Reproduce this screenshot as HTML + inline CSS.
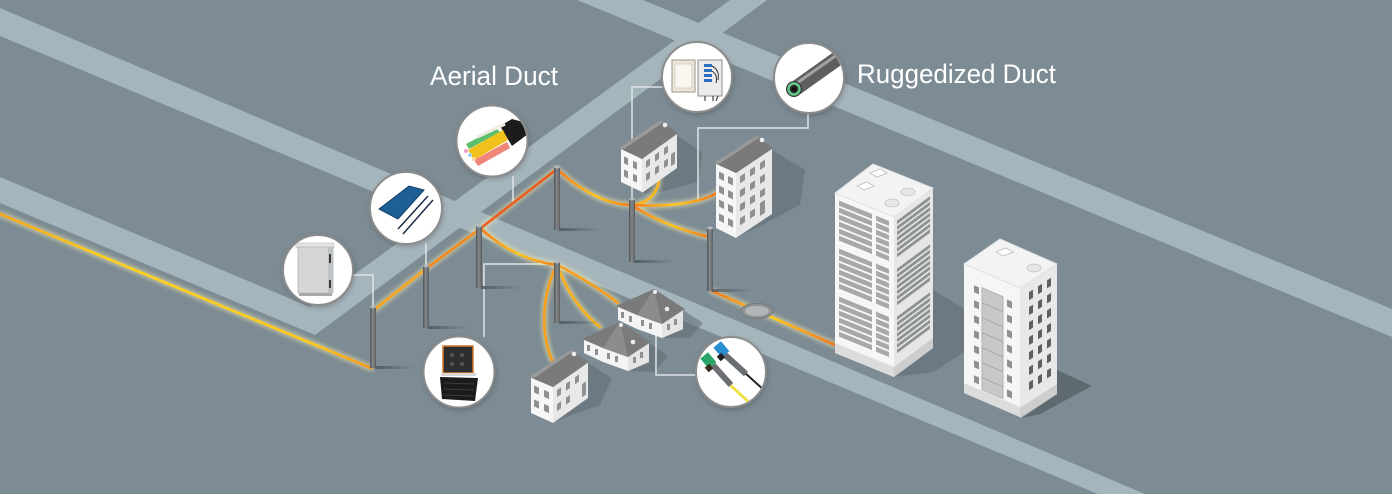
<!DOCTYPE html>
<html><head><meta charset="utf-8"><style>
html,body{margin:0;padding:0;background:#7c8b94;}
svg{display:block;}
</style></head><body>
<svg width="1392" height="494" viewBox="0 0 1392 494" xmlns="http://www.w3.org/2000/svg">
<defs>
 <filter id="glow" x="-20%" y="-50%" width="140%" height="200%"><feGaussianBlur stdDeviation="2.2"/></filter>
 <filter id="soft" x="-20%" y="-20%" width="140%" height="140%"><feGaussianBlur stdDeviation="3"/></filter>
 <linearGradient id="poleG" x1="0" y1="0" x2="1" y2="0"><stop offset="0" stop-color="#4f5356"/><stop offset=".45" stop-color="#85898c"/><stop offset="1" stop-color="#5a5e61"/></linearGradient>
 <linearGradient id="shG" x1="0" y1="0" x2="1" y2="0"><stop offset="0" stop-color="#4e5960" stop-opacity=".9"/><stop offset="1" stop-color="#4e5960" stop-opacity="0"/></linearGradient>
 <linearGradient id="og" x1="0" y1="0" x2="1" y2="0"><stop offset="0" stop-color="#f47a1a"/><stop offset=".5" stop-color="#ffc81e"/><stop offset="1" stop-color="#f3761b"/></linearGradient>
 <linearGradient id="yg" x1="0" y1="0" x2="1" y2="0"><stop offset="0" stop-color="#f7a41b"/><stop offset=".3" stop-color="#ffd21d"/><stop offset=".85" stop-color="#ffc81c"/><stop offset="1" stop-color="#f5961b"/></linearGradient>
 <clipPath id="c1"><circle cx="318" cy="270" r="34"/></clipPath>
 <clipPath id="c2"><circle cx="406" cy="208" r="35"/></clipPath>
 <clipPath id="c3"><circle cx="492" cy="141" r="34.5"/></clipPath>
 <clipPath id="c4"><circle cx="697" cy="77" r="34"/></clipPath>
 <clipPath id="c5"><circle cx="809" cy="78" r="34"/></clipPath>
 <clipPath id="c6"><circle cx="459" cy="372" r="34.5"/></clipPath>
 <clipPath id="c7"><circle cx="731" cy="372" r="34"/></clipPath>
</defs>

<!-- ground -->
<rect width="1392" height="494" fill="#7c8b94"/>

<!-- roads -->
<g fill="#a5b5bc">
 <polygon points="577,0 643,0 1392,309 1392,337"/>
 <polygon points="0,8 1145,494 1098,494 0,36"/>
 <polygon points="0,177 310,307 315,335 0,203"/>
 <polygon points="730,0 767,0 315,335 310,307"/>
</g>

<!-- building shadows -->
<g fill="#5f6b72" opacity=".55">
 <polygon points="677,136 702,152 698,182 652,194 642,193"/>
 <polygon points="772,150 805,170 800,205 760,226 736,238"/>
 <polygon points="588,363 612,378 600,405 553,422"/>
 <polygon points="649,343 668,356 655,372 628,371"/>
 <polygon points="683,310 703,323 690,338 662,338"/>
 <polygon points="933,290 980,318 975,345 933,372 894,377"/>
</g>
<polygon points="1057,370 1092,386 1040,414 1022,418 1057,394" fill="#5f6a70"/>

<!-- leader lines -->
<g fill="none" stroke="#dfe5e8" stroke-width="1.5">
 <path d="M352,275 H373 V307"/>
 <path d="M426,243 V266"/>
 <path d="M513,176 V205"/>
 <path d="M663,87 H632 V200"/>
 <path d="M808,113 V128 H698 V200"/>
 <path d="M484,337 V264 H557"/>
 <path d="M656,333 V375 H697"/>
</g>

<!-- cable glow -->
<g fill="none" stroke="#fff1a8" stroke-width="6" opacity=".55" filter="url(#glow)" stroke-linecap="round">
 <path d="M0,214 L371,368"/>
 <path d="M375,309 L427,268 L481,228 L557,169"/>
 <path d="M481,229 Q516,260 557,265"/>
 <path d="M558,170 Q597,205 633,205"/>
 <path d="M633,205 Q655,202 659,181"/>
 <path d="M633,205 Q690,208 717,193"/>
 <path d="M633,206 Q664,226 709,237"/>
 <path d="M557,265 C541,295 541,335 552,360"/>
 <path d="M557,265 Q572,305 600,327"/>
 <path d="M557,265 Q588,280 618,303"/>
 <path d="M712,291 L835,345"/>
</g>

<!-- cables -->
<g fill="none" stroke-width="2.6" stroke-linecap="round">
 <path d="M0,214 L371,368" stroke="url(#yg)"/>
 <path d="M375,309 L427,268" stroke="#f9a41d"/>
 <path d="M427,268 L481,228" stroke="#f58a1c"/>
 <path d="M481,228 L557,169" stroke="#ee5c1e"/>
 <path d="M481,229 Q516,260 557,265" stroke="url(#og)"/>
 <path d="M558,170 Q597,205 633,205" stroke="url(#og)"/>
 <path d="M633,205 Q655,202 659,181" stroke="#f9b51e"/>
 <path d="M633,205 Q690,208 717,193" stroke="url(#og)"/>
 <path d="M633,206 Q664,226 709,237" stroke="url(#og)"/>
 <path d="M557,265 C541,295 541,335 552,360" stroke="#f7a01c"/>
 <path d="M557,265 Q572,305 600,327" stroke="#f9b01d"/>
 <path d="M557,265 Q588,280 618,303" stroke="#f8a01c"/>
 <path d="M712,291 L835,345" stroke="url(#og)"/>
</g>

<!-- manhole -->
<ellipse cx="757" cy="311" rx="16" ry="7.5" fill="#8f9396" stroke="#737779" stroke-width="1"/>
<ellipse cx="757" cy="311" rx="12" ry="5" fill="#b3b6b8"/>

<!-- poles -->
<g>
 <g><rect x="375" y="366" width="40" height="3" fill="url(#shG)"/><rect x="370" y="307" width="6" height="61" fill="url(#poleG)"/><ellipse cx="373" cy="307" rx="3" ry="1.5" fill="#b4b7b9"/></g>
 <g><rect x="428" y="326" width="40" height="3" fill="url(#shG)"/><rect x="423" y="266" width="6" height="62" fill="url(#poleG)"/><ellipse cx="426" cy="266" rx="3" ry="1.5" fill="#b4b7b9"/></g>
 <g><rect x="481" y="286" width="40" height="3" fill="url(#shG)"/><rect x="476" y="226" width="6" height="62" fill="url(#poleG)"/><ellipse cx="479" cy="226" rx="3" ry="1.5" fill="#b4b7b9"/></g>
 <g><rect x="559" y="228" width="40" height="3" fill="url(#shG)"/><rect x="554" y="167" width="6" height="63" fill="url(#poleG)"/><ellipse cx="557" cy="167" rx="3" ry="1.5" fill="#b4b7b9"/></g>
 <g><rect x="559" y="321" width="40" height="3" fill="url(#shG)"/><rect x="554" y="262" width="6" height="61" fill="url(#poleG)"/><ellipse cx="557" cy="262" rx="3" ry="1.5" fill="#b4b7b9"/></g>
 <g><rect x="634" y="260" width="40" height="3" fill="url(#shG)"/><rect x="629" y="199" width="6" height="63" fill="url(#poleG)"/><ellipse cx="632" cy="199" rx="3" ry="1.5" fill="#b4b7b9"/></g>
 <g><rect x="712" y="289" width="40" height="3" fill="url(#shG)"/><rect x="707" y="228" width="6" height="63" fill="url(#poleG)"/><ellipse cx="710" cy="228" rx="3" ry="1.5" fill="#b4b7b9"/></g>
</g>

<!-- House H1 -->
<g>
 <g transform="matrix(1,0.476,0,1,621,149)">
  <rect x="0" y="0" width="21" height="33" fill="#f6f6f6"/>
  <g fill="#8e9193"><rect x="3" y="6" width="4" height="7"/><rect x="12" y="6" width="4" height="7"/><rect x="3" y="19" width="4" height="7"/><rect x="12" y="19" width="4" height="7"/></g>
 </g>
 <g transform="matrix(1,-0.714,0,1,642,159)">
  <rect x="0" y="0" width="35" height="34" fill="#e8e8e8"/>
  <g fill="#8e9193"><rect x="4" y="5" width="4" height="7"/><rect x="13" y="5" width="4" height="7"/><rect x="22" y="5" width="4" height="7"/><rect x="4" y="18" width="4" height="7"/><rect x="13" y="18" width="4" height="7"/><rect x="22" y="18" width="4" height="7"/><rect x="29" y="16" width="4" height="12"/></g>
 </g>
 <polygon points="619,148 659,121 678,133 642,159" fill="#7a7a7a"/>
 <polygon points="619,148 659,121 664,122 624,149" fill="#9a9a9a"/>
 <circle cx="665" cy="125" r="2.3" fill="#eee"/>
</g>

<!-- Building B2 -->
<g>
 <g transform="matrix(1,0.5,0,1,716,163)">
  <rect x="0" y="0" width="20" height="65" fill="#f6f6f6"/>
  <g fill="#8e9193"><rect x="3" y="7" width="5" height="7"/><rect x="12" y="7" width="5" height="7"/><rect x="3" y="21" width="5" height="7"/><rect x="12" y="21" width="5" height="7"/><rect x="3" y="35" width="5" height="7"/><rect x="12" y="35" width="5" height="7"/><rect x="3" y="49" width="5" height="7"/><rect x="12" y="49" width="5" height="7"/></g>
 </g>
 <g transform="matrix(1,-0.667,0,1,736,173)">
  <rect x="0" y="0" width="36" height="65" fill="#e8e8e8"/>
  <g fill="#8e9193"><rect x="4" y="6" width="5" height="7"/><rect x="14" y="6" width="5" height="7"/><rect x="24" y="6" width="5" height="7"/><rect x="4" y="20" width="5" height="7"/><rect x="14" y="20" width="5" height="7"/><rect x="24" y="20" width="5" height="7"/><rect x="4" y="34" width="5" height="7"/><rect x="14" y="34" width="5" height="7"/><rect x="24" y="34" width="5" height="7"/><rect x="4" y="48" width="5" height="7"/><rect x="14" y="48" width="5" height="7"/><rect x="24" y="46" width="5" height="13"/></g>
 </g>
 <polygon points="714,163 756,136 773,148 736,173" fill="#7a7a7a"/>
 <polygon points="714,163 756,136 760,137 719,164" fill="#9a9a9a"/>
 <circle cx="762" cy="140" r="2.3" fill="#eee"/>
</g>

<!-- House H2 -->
<g>
 <g transform="matrix(1,0.4545,0,1,531,377)">
  <rect x="0" y="0" width="22" height="36" fill="#f6f6f6"/>
  <g fill="#8e9193"><rect x="3" y="7" width="5" height="7"/><rect x="13" y="7" width="5" height="7"/><rect x="3" y="21" width="5" height="7"/><rect x="13" y="21" width="5" height="7"/></g>
 </g>
 <g transform="matrix(1,-0.714,0,1,553,387)">
  <rect x="0" y="0" width="35" height="36" fill="#e8e8e8"/>
  <g fill="#8e9193"><rect x="4" y="6" width="4" height="7"/><rect x="13" y="6" width="4" height="7"/><rect x="22" y="6" width="4" height="7"/><rect x="4" y="20" width="4" height="7"/><rect x="13" y="20" width="4" height="7"/><rect x="29" y="18" width="4" height="13"/></g>
 </g>
 <polygon points="529,377 570,350 589,362 553,387" fill="#7a7a7a"/>
 <polygon points="529,377 570,350 574,351 534,378" fill="#9a9a9a"/>
 <circle cx="574" cy="354" r="2.3" fill="#eee"/>
</g>

<!-- cottages H3 & H4 -->
<g id="cot">
 <polygon points="584,339 603,348 628,357 649,343 649,362 628,371 603,362 584,353" fill="#f4f4f4"/>
 <polygon points="628,357 649,343 649,362 628,371" fill="#e4e4e4"/>
 <g fill="#8e9193"><rect x="587" y="345" width="3" height="6"/><rect x="595" y="349" width="3" height="6"/><rect x="607" y="353" width="3" height="6"/><rect x="615" y="356" width="3" height="6"/><rect x="633" y="357" width="3" height="6" transform="skewY(0)"/><rect x="640" y="352" width="3" height="6"/></g>
 <polygon points="582,339 620,322 651,342 628,357 603,348" fill="#7a7a7a"/>
 <polygon points="603,348 620,322 628,357" fill="#8c8c8c"/>
 <circle cx="621" cy="325" r="2" fill="#eee"/>
 <circle cx="633" cy="342" r="2.3" fill="#eee"/>
</g>
<g transform="translate(34,-33)">
 <polygon points="584,339 603,348 628,357 649,343 649,362 628,371 603,362 584,353" fill="#f4f4f4"/>
 <polygon points="628,357 649,343 649,362 628,371" fill="#e4e4e4"/>
 <g fill="#8e9193"><rect x="587" y="345" width="3" height="6"/><rect x="595" y="349" width="3" height="6"/><rect x="607" y="353" width="3" height="6"/><rect x="615" y="356" width="3" height="6"/><rect x="633" y="357" width="3" height="6"/><rect x="640" y="352" width="3" height="6"/></g>
 <polygon points="582,339 620,322 651,342 628,357 603,348" fill="#7a7a7a"/>
 <polygon points="603,348 620,322 628,357" fill="#8c8c8c"/>
 <circle cx="621" cy="325" r="2" fill="#eee"/>
 <circle cx="633" cy="342" r="2.3" fill="#eee"/>
</g>

<!-- Tower T1 -->
<g>
 <g transform="matrix(1,0.407,0,1,835,193)">
  <rect x="0" y="0" width="59" height="160" fill="#f6f6f6"/>
  <rect x="0" y="150" width="59" height="10" fill="#dcdcdc"/>
  <g fill="#a6a8aa">
   <rect x="4" y="6" width="33" height="5"/><rect x="4" y="13" width="33" height="5"/><rect x="4" y="20" width="33" height="5"/><rect x="4" y="27" width="33" height="5"/><rect x="4" y="34" width="33" height="5"/><rect x="4" y="41" width="33" height="5"/>
   <rect x="4" y="54" width="33" height="5"/><rect x="4" y="61" width="33" height="5"/><rect x="4" y="68" width="33" height="5"/><rect x="4" y="75" width="33" height="5"/><rect x="4" y="82" width="33" height="5"/><rect x="4" y="89" width="33" height="5"/>
   <rect x="4" y="102" width="33" height="5"/><rect x="4" y="109" width="33" height="5"/><rect x="4" y="116" width="33" height="5"/><rect x="4" y="123" width="33" height="5"/><rect x="4" y="130" width="33" height="5"/><rect x="4" y="137" width="33" height="5"/>
   <rect x="41" y="6" width="13" height="5"/><rect x="41" y="13" width="13" height="5"/><rect x="41" y="20" width="13" height="5"/><rect x="41" y="27" width="13" height="5"/><rect x="41" y="34" width="13" height="5"/><rect x="41" y="41" width="13" height="5"/>
   <rect x="41" y="54" width="13" height="5"/><rect x="41" y="61" width="13" height="5"/><rect x="41" y="68" width="13" height="5"/><rect x="41" y="75" width="13" height="5"/><rect x="41" y="82" width="13" height="5"/><rect x="41" y="89" width="13" height="5"/>
   <rect x="41" y="102" width="13" height="5"/><rect x="41" y="109" width="13" height="5"/><rect x="41" y="116" width="13" height="5"/><rect x="41" y="123" width="13" height="5"/><rect x="41" y="130" width="13" height="5"/><rect x="41" y="137" width="13" height="5"/>
  </g>
 </g>
 <g transform="matrix(1,-0.744,0,1,894,217)">
  <rect x="0" y="0" width="39" height="160" fill="#e6e6e6"/>
  <rect x="0" y="150" width="39" height="10" fill="#cdcdcd"/>
  <g fill="#8f9294">
   <rect x="3" y="6" width="33" height="3.5"/><rect x="3" y="11.5" width="33" height="3.5"/><rect x="3" y="17" width="33" height="3.5"/><rect x="3" y="22.5" width="33" height="3.5"/><rect x="3" y="28" width="33" height="3.5"/><rect x="3" y="33.5" width="33" height="3.5"/><rect x="3" y="39" width="33" height="3.5"/>
   <rect x="3" y="54" width="33" height="3.5"/><rect x="3" y="59.5" width="33" height="3.5"/><rect x="3" y="65" width="33" height="3.5"/><rect x="3" y="70.5" width="33" height="3.5"/><rect x="3" y="76" width="33" height="3.5"/><rect x="3" y="81.5" width="33" height="3.5"/><rect x="3" y="87" width="33" height="3.5"/>
   <rect x="3" y="102" width="33" height="3.5"/><rect x="3" y="107.5" width="33" height="3.5"/><rect x="3" y="113" width="33" height="3.5"/><rect x="3" y="118.5" width="33" height="3.5"/><rect x="3" y="124" width="33" height="3.5"/><rect x="3" y="129.5" width="33" height="3.5"/><rect x="3" y="135" width="33" height="3.5"/>
  </g>
 </g>
 <polygon points="835,193 873,164 933,188 894,217" fill="#f3f3f3" stroke="#e0e0e0" stroke-width="1"/>
 <polygon points="870,173 880,169 887,173 877,177" fill="#ffffff" stroke="#bdbdbd" stroke-width=".8"/>
 <polygon points="857,186 867,182 874,186 864,190" fill="#ffffff" stroke="#bdbdbd" stroke-width=".8"/>
 <ellipse cx="908" cy="192" rx="7" ry="4" fill="#e6e6e6" stroke="#c2c2c2" stroke-width=".8"/>
 <ellipse cx="892" cy="203" rx="7" ry="4" fill="#e6e6e6" stroke="#c2c2c2" stroke-width=".8"/>
</g>

<!-- Tower T2 -->
<g>
 <g transform="matrix(1,0.4286,0,1,964,264)">
  <rect x="0" y="0" width="56" height="129" fill="#f6f6f6"/>
  <rect x="0" y="119" width="56" height="10" fill="#dcdcdc"/>
  <rect x="18" y="16" width="21" height="102" fill="#c6c8c9" stroke="#b0b2b3" stroke-width="1"/>
  <g stroke="#a3a5a6" stroke-width="1"><line x1="18" y1="31" x2="39" y2="31"/><line x1="18" y1="46" x2="39" y2="46"/><line x1="18" y1="61" x2="39" y2="61"/><line x1="18" y1="76" x2="39" y2="76"/><line x1="18" y1="91" x2="39" y2="91"/><line x1="18" y1="106" x2="39" y2="106"/></g>
  <g fill="#8e9193">
   <rect x="10" y="17" width="5" height="7"/><rect x="10" y="32" width="5" height="7"/><rect x="10" y="47" width="5" height="7"/><rect x="10" y="62" width="5" height="7"/><rect x="10" y="77" width="5" height="7"/><rect x="10" y="92" width="5" height="7"/><rect x="10" y="107" width="5" height="7"/>
   <rect x="43" y="17" width="5" height="7"/><rect x="43" y="32" width="5" height="7"/><rect x="43" y="47" width="5" height="7"/><rect x="43" y="62" width="5" height="7"/><rect x="43" y="77" width="5" height="7"/><rect x="43" y="92" width="5" height="7"/><rect x="43" y="107" width="5" height="7"/>
  </g>
 </g>
 <g transform="matrix(1,-0.6486,0,1,1020,288)">
  <rect x="0" y="0" width="37" height="130" fill="#e8e8e8"/>
  <rect x="0" y="120" width="37" height="10" fill="#cdcdcd"/>
  <g fill="#5b6065">
   <rect x="9" y="10" width="4" height="8"/><rect x="18" y="10" width="4" height="8"/><rect x="27" y="10" width="4" height="8"/>
   <rect x="9" y="25" width="4" height="8"/><rect x="18" y="25" width="4" height="8"/><rect x="27" y="25" width="4" height="8"/>
   <rect x="9" y="40" width="4" height="8"/><rect x="18" y="40" width="4" height="8"/><rect x="27" y="40" width="4" height="8"/>
   <rect x="9" y="55" width="4" height="8"/><rect x="18" y="55" width="4" height="8"/><rect x="27" y="55" width="4" height="8"/>
   <rect x="9" y="70" width="4" height="8"/><rect x="18" y="70" width="4" height="8"/><rect x="27" y="70" width="4" height="8"/>
   <rect x="9" y="85" width="4" height="8"/><rect x="18" y="85" width="4" height="8"/><rect x="27" y="85" width="4" height="8"/>
   <rect x="9" y="100" width="4" height="8"/><rect x="18" y="100" width="4" height="8"/><rect x="27" y="100" width="4" height="8"/>
  </g>
 </g>
 <polygon points="964,264 1000,239 1057,264 1020,288" fill="#f3f3f3" stroke="#e0e0e0" stroke-width="1"/>
 <polygon points="996,252 1006,248 1013,252 1003,256" fill="#ffffff" stroke="#bdbdbd" stroke-width=".8"/>
 <ellipse cx="1034" cy="268" rx="7" ry="4" fill="#e6e6e6" stroke="#c2c2c2" stroke-width=".8"/>
</g>

<!-- circles -->
<g fill="#000" opacity=".25" filter="url(#soft)">
 <circle cx="319" cy="272" r="35"/><circle cx="407" cy="210" r="36"/><circle cx="493" cy="143" r="35.5"/><circle cx="698" cy="79" r="35"/><circle cx="810" cy="80" r="35"/><circle cx="460" cy="374" r="35.5"/><circle cx="732" cy="374" r="35"/>
</g>
<g fill="#ffffff" stroke="#8c8c8c" stroke-width="2">
 <circle cx="318" cy="270" r="35"/>
 <circle cx="406" cy="208" r="36"/>
 <circle cx="492" cy="141" r="35.5"/>
 <circle cx="697" cy="77" r="35"/>
 <circle cx="809" cy="78" r="35"/>
 <circle cx="459" cy="372" r="35.5"/>
 <circle cx="731" cy="372" r="35"/>
</g>

<!-- cabinet -->
<g clip-path="url(#c1)">
 <rect x="296" y="243" width="38" height="5" fill="#e2e4e5" stroke="#b9bcbe" stroke-width=".6"/>
 <rect x="298" y="247" width="35" height="46" fill="#d3d5d7" stroke="#b3b6b8" stroke-width=".8"/>
 <rect x="328" y="247" width="5" height="46" fill="#bfc2c4"/>
 <rect x="329" y="254" width="2" height="9" fill="#3a3a3a"/>
 <rect x="329" y="280" width="2" height="8" fill="#3a3a3a"/>
 <rect x="299" y="293" width="33" height="3" fill="#a7a9ab"/>
</g>
<!-- blue splice -->
<g clip-path="url(#c2)">
 <polygon points="379,209 409,186 424,190 398,219" fill="#1f5f97" stroke="#143f66" stroke-width="1"/>
 <line x1="398" y1="229" x2="428" y2="196" stroke="#1b2c45" stroke-width="1.5"/>
 <line x1="403" y1="234" x2="433" y2="200" stroke="#1b2c45" stroke-width="1.5"/>
</g>
<!-- aerial cable -->
<g clip-path="url(#c3)">
 <polygon points="500,126 512,119 527,123 528,134 512,146" fill="#1c1c1c"/>
 <polygon points="466,144 496,128 500,132 469,149" fill="#5dbf6c"/>
 <polygon points="468,150 503,130 508,140 474,160" fill="#f2c21c"/>
 <polygon points="474,160 507,142 510,148 478,166" fill="#f0857a"/>
 <line x1="477" y1="137" x2="505" y2="124" stroke="#f1ece2" stroke-width="3.2"/>
 <circle cx="466" cy="151" r="2" fill="#f4a0c6"/><circle cx="470" cy="155" r="2" fill="#9fd2f0"/><circle cx="474" cy="159" r="2" fill="#ffd39a"/>
</g>
<!-- distribution box -->
<g clip-path="url(#c4)">
 <rect x="672" y="60" width="23" height="32" fill="#ece7d8" stroke="#9a958a" stroke-width="1"/>
 <rect x="675" y="64" width="17" height="24" fill="#f8f6ef" stroke="#c8c2b0" stroke-width=".6"/>
 <rect x="698" y="60" width="24" height="36" fill="#ebebe9" stroke="#8e8e8e" stroke-width="1"/>
 <g fill="#2c6fbf"><rect x="704" y="64" width="8" height="3"/><rect x="704" y="69" width="8" height="3"/><rect x="704" y="74" width="8" height="3"/><rect x="704" y="79" width="8" height="3"/></g>
 <path d="M712,66 q8,4 6,14 M712,71 q6,4 4,12" stroke="#333" fill="none" stroke-width="1"/>
 <g stroke="#444" stroke-width="1.2"><line x1="705" y1="96" x2="705" y2="101"/><line x1="713" y1="96" x2="713" y2="101"/><line x1="718" y1="96" x2="716" y2="101"/></g>
</g>
<!-- ruggedized duct -->
<g clip-path="url(#c5)">
 <line x1="796" y1="88" x2="848" y2="51" stroke="#5e5e5e" stroke-width="15"/>
 <line x1="797" y1="83" x2="848" y2="47" stroke="#a2a2a2" stroke-width="3"/>
 <ellipse cx="794" cy="89" rx="8" ry="8" fill="#383838"/>
 <circle cx="794" cy="89" r="5.5" fill="#2a2a2a" stroke="#63c98a" stroke-width="2.5"/>
 <circle cx="794" cy="89" r="2.3" fill="#111"/>
</g>
<!-- closure -->
<g clip-path="url(#c6)">
 <rect x="443" y="346" width="30" height="27" fill="#2e2e2e" stroke="#d0782c" stroke-width="1.5"/>
 <g fill="#555"><circle cx="452" cy="355" r="2"/><circle cx="462" cy="355" r="2"/><circle cx="452" cy="364" r="2"/><circle cx="462" cy="364" r="2"/></g>
 <rect x="441" y="373" width="35" height="3" fill="#d8d8d8"/>
 <polygon points="440,377 478,378 475,401 442,399" fill="#1b1b1b"/>
 <g stroke="#3c3c3c" stroke-width="1"><line x1="444" y1="383" x2="474" y2="384"/><line x1="444" y1="389" x2="474" y2="390"/><line x1="444" y1="395" x2="473" y2="396"/></g>
</g>
<!-- connectors -->
<g clip-path="url(#c7)">
 <line x1="728" y1="383" x2="752" y2="405" stroke="#f0df45" stroke-width="3"/>
 <line x1="744" y1="372" x2="765" y2="391" stroke="#222" stroke-width="2"/>
 <line x1="713" y1="365" x2="731" y2="385" stroke="#6b6f73" stroke-width="6"/>
 <line x1="723" y1="353" x2="746" y2="374" stroke="#6b6f73" stroke-width="6"/>
 <rect x="716" y="343" width="10" height="13" fill="#2a8fd0" transform="rotate(-40 721 349)"/>
 <rect x="703" y="354" width="10" height="13" fill="#2aa66a" transform="rotate(-40 708 360)"/>
 <rect x="718" y="354" width="6" height="6" fill="#222" transform="rotate(-40 721 357)"/>
 <rect x="706" y="365" width="6" height="6" fill="#3a2a1a" transform="rotate(-40 709 368)"/>
</g>

<!-- labels -->
<g font-family="'Liberation Sans', 'DejaVu Sans', sans-serif" font-size="27" fill="#ffffff">
 <text x="430" y="85" textLength="128" lengthAdjust="spacingAndGlyphs">Aerial Duct</text>
 <text x="857" y="83" textLength="199" lengthAdjust="spacingAndGlyphs">Ruggedized Duct</text>
</g>
</svg>
</body></html>
